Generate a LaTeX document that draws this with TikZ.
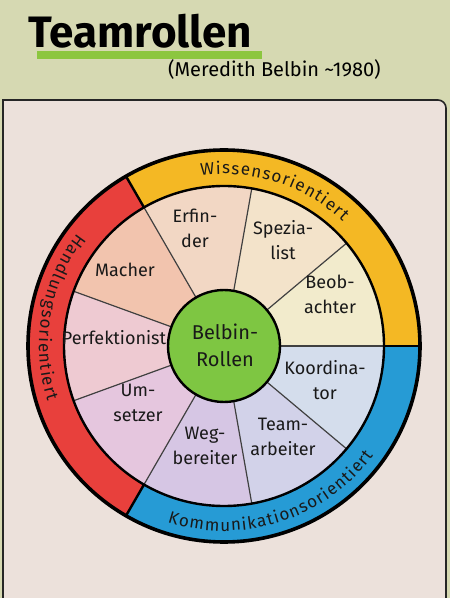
\documentclass[tikz,border=0pt]{standalone}
\usepackage{fontspec}
\setmainfont{Fira Sans}
\definecolor{topbg}{RGB}{214,217,178}
\definecolor{paper}{RGB}{236,225,219}
\definecolor{hlgreen}{RGB}{140,198,63}
\definecolor{ringR}{RGB}{232,64,60}
\definecolor{ringY}{RGB}{244,184,36}
\definecolor{ringB}{RGB}{38,155,213}
\definecolor{cBeob}{RGB}{242,235,204}
\definecolor{cSpez}{RGB}{243,227,202}
\definecolor{cErf}{RGB}{242,215,196}
\definecolor{cMach}{RGB}{242,196,174}
\definecolor{cPerf}{RGB}{238,202,210}
\definecolor{cUms}{RGB}{229,198,222}
\definecolor{cWeg}{RGB}{214,198,228}
\definecolor{cTeam}{RGB}{210,210,233}
\definecolor{cKoord}{RGB}{212,221,236}
\definecolor{cGreen}{RGB}{126,198,66}
\newcommand\myrolefont{\fontsize{18}{25}\selectfont}
\newcommand\myringfont{\fontsize{17}{17}\selectfont}
% #1 name prefix, #2 centre angle, #3 radius, #4 dir (1 ccw, -1 cw), #5 gap, #6 chars
\newcommand\myarctext[6]{%
  \begingroup
  \myringfont
  \gdef\mytot{0}%
  \foreach \ch in {#6}{%
    \pgfmathsetmacro\myw{width("\ch")}%
    \pgfmathparse{\mytot+\myw+#5}\global\let\mytot\pgfmathresult}%
  \pgfmathparse{#2-#4*deg((\mytot-#5)/2/#3)}\global\let\mycur\pgfmathresult
  \foreach \ch [count=\i] in {#6}{%
    \pgfmathsetmacro\myw{width("\ch")}%
    \pgfmathsetmacro\mymid{\mycur+#4*deg(\myw/2/#3)}%
    \pgfmathsetmacro\myrot{\mymid+#4*90}%
    \node[ringchar, rotate=\myrot] (#1-\i) at (\mymid:#3) {\ch};
    \pgfmathparse{\mycur+#4*deg((\myw+#5)/#3)}\global\let\mycur\pgfmathresult}%
  \endgroup}
\tikzset{
  role/.style={align=center, font=\myrolefont, text=black!90, inner sep=0pt},
  divider/.style={draw=black!75, line width=1.2pt},
  ringline/.style={draw=black, line width=2.4pt},
  ringchar/.style={anchor=base, inner sep=0pt, font=\myringfont, text=black!90}
}
\begin{document}
\begin{tikzpicture}[x=1pt,y=1pt]
\useasboundingbox (0,0) rectangle (450,598);
\fill[topbg] (0,0) rectangle (450,598);
% frame
\fill[paper] (3,-10) -- (3,498) -- (438,498) arc[start angle=90, end angle=0, radius=8] -- (446,-10) -- cycle;
\draw[black!85, line width=1.6pt] (3,-10) -- (3,498) -- (438,498) arc[start angle=90, end angle=0, radius=8] -- (446,-10);
% title
\fill[hlgreen] (37,539) rectangle (262,547);
\node[anchor=base west, inner sep=0pt, font=\fontsize{44}{44}\selectfont\bfseries] (title) at (28,550) {Teamrollen};
\node[anchor=base west, inner sep=0pt, font=\fontsize{20}{20}\selectfont] (subtitle) at (168,521) {(Meredith Belbin \textasciitilde 1980)};
\begin{scope}[shift={(224,252)}]
  % segments
  \foreach \a/\c in {0/cBeob,40/cSpez,80/cErf,120/cMach,160/cPerf,200/cUms,240/cWeg,280/cTeam,320/cKoord}{
    \fill[\c] (0,0) -- (\a:160) arc[start angle=\a, end angle=\a+40, radius=160] -- cycle;
  }
  \foreach \a in {0,40,...,320}{
    \draw[divider] (\a:56) -- (\a:160);
  }
  % ring
  \fill[ringY] (0:160) arc[start angle=0, end angle=120, radius=160] -- (120:196) arc[start angle=120, end angle=0, radius=196] -- cycle;
  \fill[ringR] (120:160) arc[start angle=120, end angle=240, radius=160] -- (240:196) arc[start angle=240, end angle=120, radius=196] -- cycle;
  \fill[ringB] (240:160) arc[start angle=240, end angle=360, radius=160] -- (360:196) arc[start angle=360, end angle=240, radius=196] -- cycle;
  \foreach \a in {0,120,240}{
    \draw[ringline] (\a:160) -- (\a:196);
  }
  \draw[black, line width=2.4pt] (0,0) circle[radius=160];
  \draw[black, line width=3.6pt] (0,0) circle[radius=196];
  % ring texts
  \myarctext{wis}{72}{172}{-1}{1.2}{W,i,s,s,e,n,s,o,r,i,e,n,t,i,e,r,t}
  \myarctext{han}{170}{185}{1}{1.2}{H,a,n,d,l,u,n,g,s,o,r,i,e,n,t,i,e,r,t}
  \myarctext{kom}{288}{185}{1}{1.2}{K,o,m,m,u,n,i,k,a,t,i,o,n,s,o,r,i,e,n,t,i,e,r,t}
  % centre
  \draw[fill=cGreen, draw=black, line width=2.4pt] (0,0) circle[radius=56];
  \node[role, font=\fontsize{20}{27}\selectfont] (belbin) at (1,1) {Belbin-\\Rollen};
  % roles
  \node[role] (erfinder) at (-29,118) {Erfin-\\der};
  \node[role] (spezialist) at (59,106) {Spezia-\\list};
  \node[role] (beobachter) at (106,52) {Beob-\\achter};
  \node[role] (macher) at (-99,76) {Macher};
  \node[role] (perfektionist) at (-110,8) {Perfektionist};
  \node[role] (umsetzer) at (-86,-57) {Um-\\setzer};
  \node[role] (wegbereiter) at (-19,-100) {Weg-\\bereiter};
  \node[role] (teamarbeiter) at (59,-91) {Team-\\arbeiter};
  \node[role] (koordinator) at (101,-34) {Koordina-\\tor};
\end{scope}
\end{tikzpicture}
\end{document}
